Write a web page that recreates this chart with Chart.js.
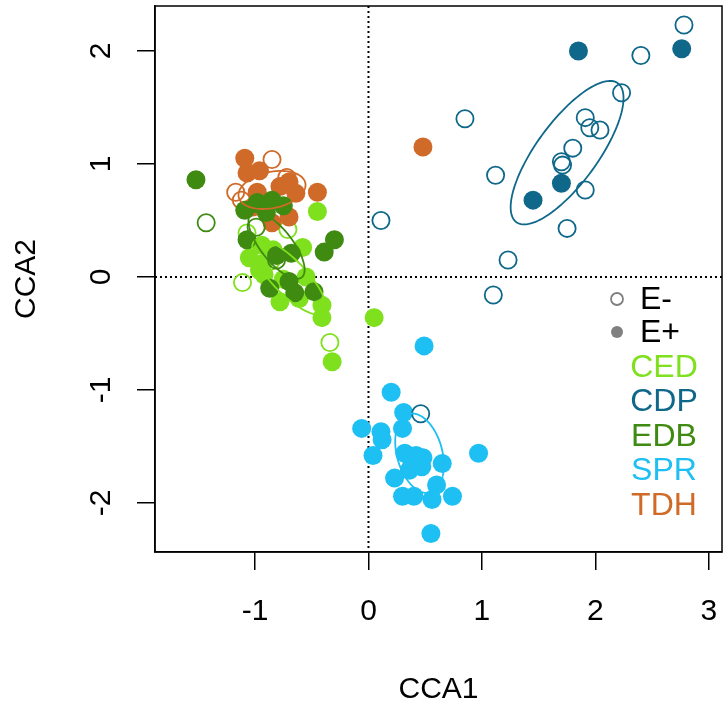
<!DOCTYPE html>
<html>
<head>
<meta charset="utf-8">
<script src="https://cdn.jsdelivr.net/npm/chart.js@4.4.1/dist/chart.umd.min.js"></script>
<style>
  body { margin: 0; background: #fff; }
  #wrap { width: 728px; height: 708px; }
</style>
</head>
<body>
<div id="wrap"><canvas id="ccaChart" width="728" height="708"></canvas></div>
<script>
// axis ticks
const xTicks = [-1, 0, 1, 2, 3];
const yTicks = [-2, -1, 0, 1, 2];

// groups and colours
const groups = ['CED', 'CDP', 'EDB', 'SPR', 'TDH'];
const groupColors = ['#7fe11d', '#0f688a', '#3f8b12', '#1ebff2', '#d06a28'];

// site scores [CCA1, CCA2], E- = open, E+ = filled
const cedOpen = [[-1.11, -0.05], [-0.34, -0.58], [-1.07, 0.39], [-0.71, 0.42], [-0.86, 0.14]];
const cedFilled = [[-0.45, 0.58], [-1.05, 0.17], [-0.93, 0.12], [-0.94, 0.28], [-0.58, 0.26], [-0.96, 0.06],
  [-0.78, -0.22], [-0.61, -0.19], [-0.41, -0.25], [-0.41, -0.36], [-0.32, -0.75], [0.05, -0.36],
  [-0.92, 0.02], [-0.84, 0.24], [-0.75, -0.02], [-0.55, 0.00]];
const cdpOpen = [[2.78, 2.23], [2.40, 1.96], [2.23, 1.63], [0.85, 1.40], [1.91, 1.41], [1.95, 1.32],
  [2.04, 1.30], [1.80, 1.14], [1.70, 1.02], [1.71, 0.99], [1.12, 0.90], [1.91, 0.77], [1.75, 0.43],
  [1.23, 0.15], [1.10, -0.16], [0.11, 0.50], [0.46, -1.21]];
const cdpFilled = [[1.85, 2.00], [2.76, 2.02], [1.70, 0.83], [1.45, 0.68]];
const edbOpen = [[-1.43, 0.48], [-0.99, 0.44], [-0.81, 0.15]];
const edbFilled = [[-1.52, 0.86], [-0.98, 0.66], [-0.85, 0.68], [-1.09, 0.59], [-0.90, 0.57], [-1.07, 0.33],
  [-0.81, 0.19], [-0.68, 0.21], [-0.30, 0.33], [-0.39, 0.22], [-0.87, -0.10], [-0.70, -0.04],
  [-0.65, -0.14], [-0.48, -0.13], [-0.75, 0.63]];
const sprOpen = [];
const sprFilled = [[0.49, -0.61], [0.20, -1.02], [0.31, -1.20], [0.30, -1.34], [-0.06, -1.34], [0.11, -1.37],
  [0.12, -1.44], [0.04, -1.58], [0.32, -1.56], [0.48, -1.60], [0.36, -1.71], [0.47, -1.68], [0.65, -1.65],
  [0.97, -1.56], [0.23, -1.78], [0.60, -1.84], [0.30, -1.94], [0.40, -1.94], [0.56, -1.97], [0.74, -1.94],
  [0.55, -2.27], [0.38, -1.62], [0.42, -1.58]];
const tdhOpen = [[-0.85, 1.04], [-0.72, 0.88], [-1.17, 0.75], [-1.12, 0.68]];
const tdhFilled = [[-1.09, 1.05], [-1.07, 0.92], [-0.96, 0.94], [-0.98, 0.75], [-0.70, 0.84], [-0.64, 0.74],
  [-0.45, 0.75], [-0.70, 0.53], [-0.85, 0.48], [0.48, 1.15], [-1.02, 0.62], [-0.78, 0.80]];

// group ellipses: centre x, centre y, semi-major, semi-minor, angle (deg)
const ellipses = [
  [-0.70, 0.00, 0.44, 0.15, 134],
  [1.75, 1.10, 0.76, 0.27, 54],
  [-0.81, 0.28, 0.36, 0.14, 128],
  [0.45, -1.56, 0.36, 0.20, 105],
  [-0.85, 0.77, 0.30, 0.16, 12]
];

const legendSymbols = ['E-', 'E+'];

const openSets = [cedOpen, cdpOpen, edbOpen, sprOpen, tdhOpen];
const filledSets = [cedFilled, cdpFilled, edbFilled, sprFilled, tdhFilled];

const toPts = arr => arr.map(p => ({ x: p[0], y: p[1] }));

// draw order: first dataset ends up on top
const drawOrder = [2, 4, 0, 1, 3];
const datasets = [];
drawOrder.forEach(g => {
  datasets.push({
    label: groups[g] + ' E+',
    data: toPts(filledSets[g]),
    pointRadius: 9.5,
    pointBorderWidth: 0,
    pointBackgroundColor: groupColors[g],
    pointBorderColor: groupColors[g]
  });
  datasets.push({
    label: groups[g] + ' E-',
    data: toPts(openSets[g]),
    pointRadius: 8.6,
    pointBorderWidth: 1.8,
    pointBackgroundColor: 'rgba(0,0,0,0)',
    pointBorderColor: groupColors[g]
  });
});

const FONT = '"Liberation Sans", Arial, sans-serif';

// dotted zero lines
const zeroLines = {
  id: 'zeroLines',
  beforeDatasetsDraw(chart) {
    const { ctx, chartArea: a, scales: { x, y } } = chart;
    ctx.save();
    ctx.strokeStyle = '#000';
    ctx.lineWidth = 2;
    ctx.setLineDash([2, 3]);
    const x0 = x.getPixelForValue(0);
    const y0 = y.getPixelForValue(0);
    ctx.beginPath();
    ctx.moveTo(x0, a.top); ctx.lineTo(x0, a.bottom);
    ctx.moveTo(a.left, y0); ctx.lineTo(a.right, y0);
    ctx.stroke();
    ctx.restore();
  }
};

// group ellipses, through the scales
const ellipsePlugin = {
  id: 'ellipsePlugin',
  afterDatasetsDraw(chart) {
    const { ctx, scales: { x, y } } = chart;
    ctx.save();
    ctx.lineWidth = 1.8;
    ellipses.forEach((e, g) => {
      const [cx, cy, ra, rb, deg] = e;
      const th = deg * Math.PI / 180;
      ctx.strokeStyle = groupColors[g];
      ctx.beginPath();
      for (let i = 0; i <= 120; i++) {
        const t = i / 120 * 2 * Math.PI;
        const dx = ra * Math.cos(t) * Math.cos(th) - rb * Math.sin(t) * Math.sin(th);
        const dy = ra * Math.cos(t) * Math.sin(th) + rb * Math.sin(t) * Math.cos(th);
        const px = x.getPixelForValue(cx + dx);
        const py = y.getPixelForValue(cy + dy);
        if (i === 0) ctx.moveTo(px, py); else ctx.lineTo(px, py);
      }
      ctx.stroke();
    });
    ctx.restore();
  }
};

// legend inside plot + frame
const boxLegend = {
  id: 'boxLegend',
  afterDraw(chart) {
    const { ctx, chartArea: a } = chart;
    ctx.save();
    ctx.strokeStyle = '#000';
    ctx.lineWidth = 1.5;
    ctx.strokeRect(a.left, a.top, a.right - a.left, a.bottom - a.top);

    ctx.font = '32px ' + FONT;
    ctx.textBaseline = 'middle';
    ctx.textAlign = 'left';
    const symY = [299, 332];
    legendSymbols.forEach((s, i) => {
      ctx.beginPath();
      ctx.arc(617, symY[i], 6, 0, 2 * Math.PI);
      if (i === 0) {
        ctx.strokeStyle = '#808080';
        ctx.lineWidth = 1.8;
        ctx.stroke();
      } else {
        ctx.fillStyle = '#808080';
        ctx.fill();
      }
      ctx.fillStyle = '#000';
      ctx.fillText(s, 640, symY[i] + 1);
    });
    ctx.textAlign = 'center';
    groups.forEach((g, i) => {
      ctx.fillStyle = groupColors[i];
      ctx.fillText(g, 664, 368 + i * 34.5);
    });
    ctx.restore();
  }
};

new Chart(document.getElementById('ccaChart').getContext('2d'), {
  type: 'scatter',
  data: { datasets: datasets },
  options: {
    responsive: false,
    animation: false,
    devicePixelRatio: 1,
    layout: { autoPadding: false, padding: { top: 6, right: 6, left: 0, bottom: 0 } },
    plugins: {
      legend: { display: false },
      tooltip: { enabled: false }
    },
    scales: {
      x: {
        type: 'linear',
        min: -1.881,
        max: 3.115,
        afterBuildTicks: s => { s.ticks = xTicks.map(v => ({ value: v })); },
        afterFit: s => { s.height = 156; s.paddingLeft = 0; s.paddingRight = 0; },
        grid: { drawOnChartArea: false, drawTicks: true, tickLength: 18, color: '#000', lineWidth: 1.5 },
        border: { display: true, color: '#000', width: 1.5 },
        ticks: { color: '#000', font: { family: FONT, size: 30 }, padding: 24 },
        title: { display: true, text: 'CCA1', color: '#000', font: { family: FONT, size: 30 }, padding: { top: 0, bottom: 0 } }
      },
      y: {
        type: 'linear',
        min: -2.434,
        max: 2.398,
        afterBuildTicks: s => { s.ticks = yTicks.map(v => ({ value: v })); },
        afterFit: s => { s.width = 155; s.paddingTop = 0; s.paddingBottom = 0; },
        grid: { drawOnChartArea: false, drawTicks: true, tickLength: 18, color: '#000', lineWidth: 1.5 },
        border: { display: true, color: '#000', width: 1.5 },
        ticks: { color: '#000', font: { family: FONT, size: 30 }, padding: 22, minRotation: 90, maxRotation: 90, crossAlign: 'center' },
        title: { display: true, text: 'CCA2', color: '#000', font: { family: FONT, size: 30 }, padding: { top: 9, bottom: 0 } }
      }
    }
  },
  plugins: [zeroLines, ellipsePlugin, boxLegend]
});
</script>
</body>
</html>
